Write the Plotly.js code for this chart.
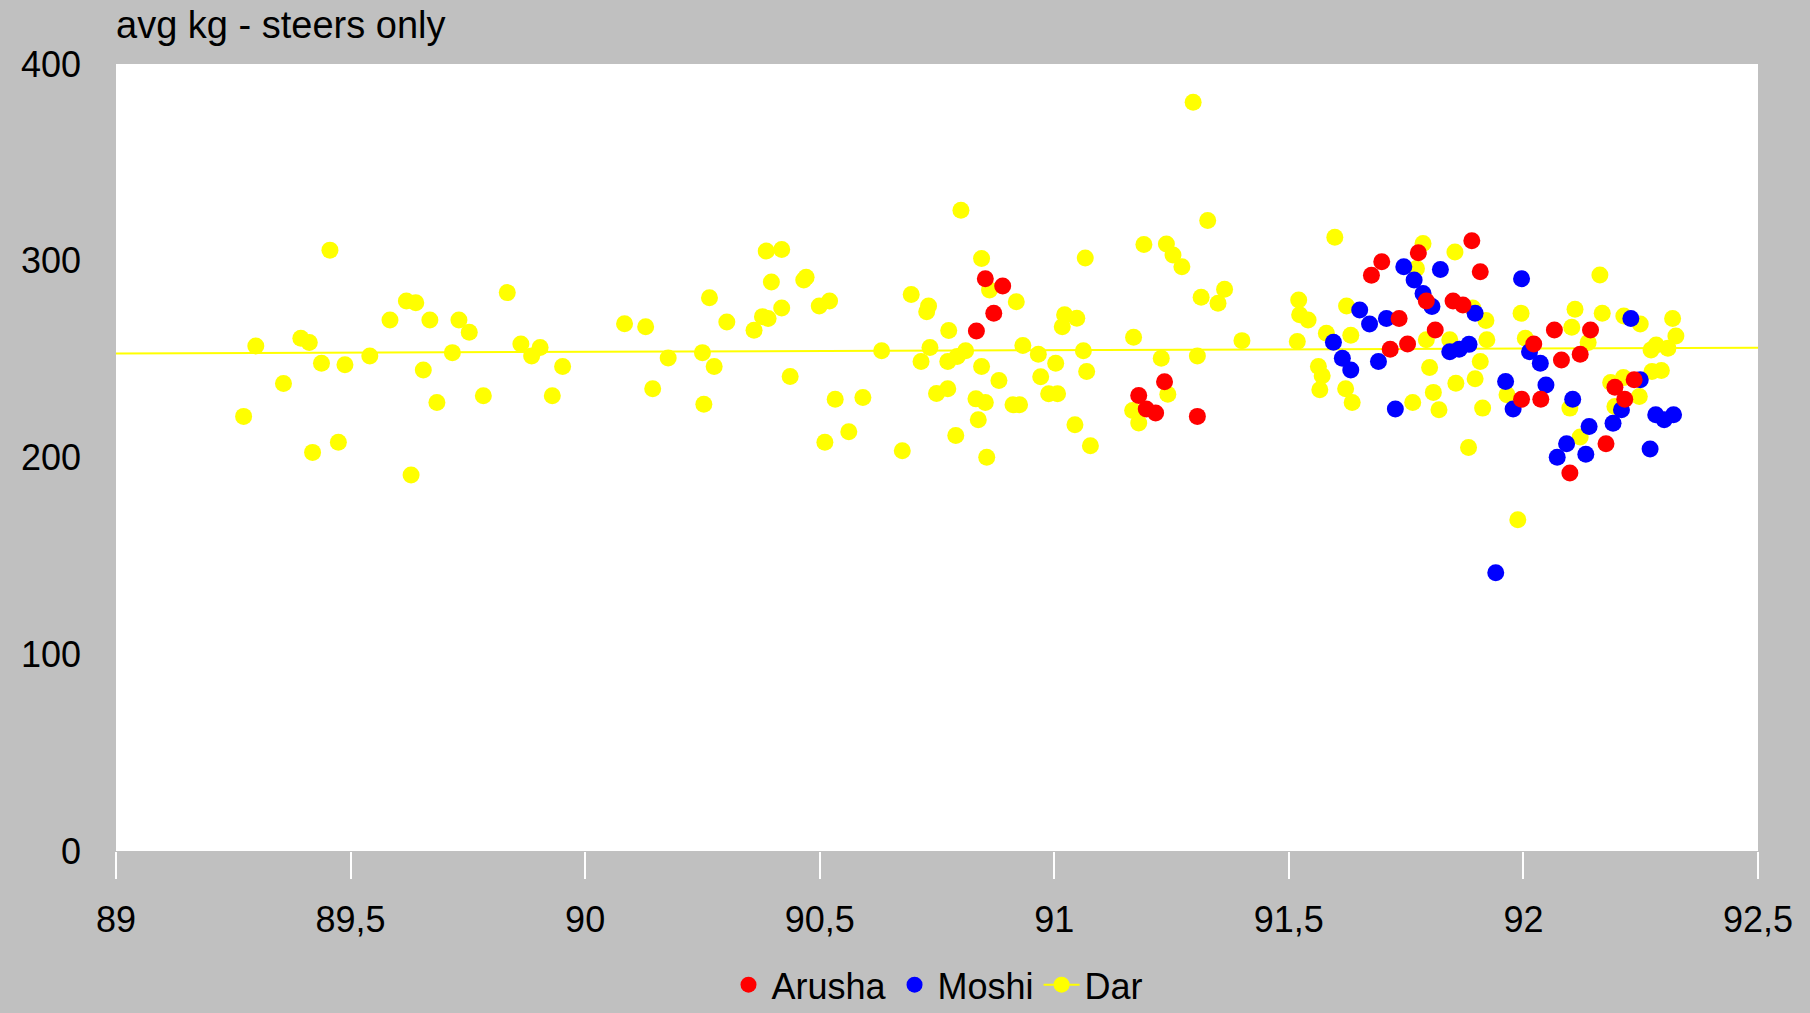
<!DOCTYPE html>
<html>
<head>
<meta charset="utf-8">
<script src="https://cdn.plot.ly/plotly-3.0.1.min.js"></script>
<style>
html,body{margin:0;padding:0;background:#C0C0C0;}
#chart{width:1810px;height:1013px;}
</style>
</head>
<body>
<div id="chart"></div>
<script>
// ---- data ----
const arushaX = [90.853,90.890,90.871,90.834,91.235,91.180,91.196,91.216,91.305,91.735,91.676,91.698,91.776,91.793,91.812,91.716,91.753,91.890,91.908,91.850,91.871,92.066,92.143,92.022,92.081,92.121,91.996,92.037,92.099,92.176,92.216,92.195,92.236];
const arushaY = [290.8,287.2,273.3,264.3,238.5,231.5,224.6,222.6,220.9,270.7,292.6,299.5,304.1,279.6,264.8,255.0,257.7,310.2,294.4,279.6,277.5,264.8,264.8,257.7,249.6,252.5,229.6,229.6,192.1,207.0,229.6,235.7,239.5];

const moshiX = [91.595,91.614,91.632,91.651,91.672,91.708,91.691,91.745,91.767,91.786,91.805,91.823,91.727,91.897,91.843,91.863,91.884,91.962,91.978,91.996,92.013,92.036,92.048,92.105,92.140,92.092,92.072,92.133,92.191,92.209,92.249,92.229,92.282,92.300,92.320,92.270,91.941];
const moshiY = [258.6,250.5,244.5,275.0,267.9,270.7,248.8,296.9,290.2,283.4,276.7,295.6,224.6,273.3,253.8,255.0,257.5,238.6,224.6,290.9,253.8,247.9,236.9,229.6,215.8,207.0,200.1,201.7,217.4,224.3,239.5,270.7,221.7,219.2,221.7,204.3,141.4];

const darX = [
89.456,89.834,89.619,89.639,89.584,89.669,89.731,89.753,89.298,89.394,89.412,89.438,89.488,89.541,89.717,89.863,89.904,89.886,89.655,89.357,89.783,89.684,89.272,89.474,89.419,89.629,
90.386,90.419,90.397,90.471,90.466,90.265,90.521,90.499,90.419,90.378,90.390,90.360,90.302,90.084,90.129,89.952,89.930,90.177,90.250,90.275,90.144,90.253,90.437,90.632,90.533,90.592,90.562,90.511,
90.801,90.845,91.066,91.191,91.239,91.253,91.272,91.327,90.862,90.695,90.732,90.728,90.919,90.775,91.022,91.048,91.017,91.169,90.735,90.716,90.773,90.793,90.811,90.933,90.966,91.003,91.062,91.228,91.305,90.845,91.069,90.882,90.971,90.749,90.773,90.833,90.853,90.912,90.926,90.988,91.007,90.838,90.790,91.044,91.077,90.676,90.856,91.242,91.167,91.180,91.363,91.349,91.313,91.296,
91.400,91.598,91.521,91.523,91.541,91.518,91.623,91.580,91.632,91.563,91.571,91.566,91.621,91.635,91.786,91.772,91.800,91.793,91.764,91.808,91.820,91.854,91.892,91.920,91.843,91.922,91.908,91.897,91.856,91.913,91.883,91.995,92.004,91.965,
92.163,92.110,92.168,92.103,92.138,92.099,92.121,92.195,92.186,92.213,92.247,92.274,92.294,92.272,92.283,92.308,92.325,92.318,92.214,92.249,91.988];
const darY = [
305.4,283.8,279.6,278.7,269.9,269.9,269.9,263.7,256.7,260.6,258.4,247.9,247.1,251.6,253.3,257.7,255.9,251.6,244.5,237.6,231.4,228.0,220.9,207.7,202.6,191.1,
304.9,305.7,289.2,291.6,290.2,281.2,279.6,277.0,276.0,271.6,270.6,264.7,268.9,268.0,266.4,246.2,231.4,250.6,253.3,246.2,234.9,227.1,241.2,254.2,229.6,230.5,213.1,207.7,
325.7,301.2,301.4,308.3,308.5,302.9,297.0,320.5,285.1,282.9,277.0,274.1,279.2,264.5,272.5,270.8,266.5,261.1,255.9,248.8,248.8,251.3,254.2,256.9,252.5,247.9,254.2,250.5,251.6,246.2,243.7,239.1,241.0,232.5,234.9,229.8,228.0,226.8,226.8,232.4,232.4,219.2,211.2,216.6,206.0,203.4,200.1,232.2,223.9,217.5,285.5,278.4,281.4,380.6,
259.4,311.9,280.1,272.5,269.9,258.9,277.0,263.1,262.1,246.2,241.5,234.4,234.9,228.0,308.8,296.1,245.7,259.8,228.0,233.1,224.3,304.5,276.0,269.6,259.8,259.8,248.8,240.0,237.7,225.1,205.1,273.3,260.6,231.9,
292.7,275.3,273.3,266.2,258.4,225.1,210.4,225.9,238.1,240.6,231.0,243.7,244.2,254.7,257.2,255.5,261.8,270.7,271.9,267.9,168.4];

// Dar linear trend line, end values
const trendX = [89, 92.5];
const trendY = [252.9, 255.8];

const xTickVals = [89, 89.5, 90, 90.5, 91, 91.5, 92, 92.5];
const xTickText = ["89", "89,5", "90", "90,5", "91", "91,5", "92", "92,5"];
const yTickVals = [0, 100, 200, 300, 400];
const yTickText = ["0", "100", "200", "300", "400"];

const FONT = '"Liberation Sans", Arial, Helvetica, sans-serif';

const traces = [
  {x: trendX, y: trendY, type: 'scatter', mode: 'lines', line: {color: '#FFFF00', width: 2}, showlegend: false, hoverinfo: 'skip'},
  {x: darX, y: darY, type: 'scatter', mode: 'markers', name: 'Dar', marker: {color: '#FFFF00', size: 17}, showlegend: false},
  {x: moshiX, y: moshiY, type: 'scatter', mode: 'markers', name: 'Moshi', marker: {color: '#0000FF', size: 17}, legendrank: 2},
  {x: arushaX, y: arushaY, type: 'scatter', mode: 'markers', name: 'Arusha', marker: {color: '#FF0000', size: 17}, legendrank: 1},
  {x: [null], y: [null], type: 'scatter', mode: 'lines+markers', name: 'Dar', line: {color: '#FFFF00', width: 2}, marker: {color: '#FFFF00', size: 16}, legendrank: 3}
];

const layout = {
  width: 1810,
  height: 1013,
  paper_bgcolor: '#C0C0C0',
  plot_bgcolor: '#FFFFFF',
  font: {family: FONT, color: '#000000', size: 36},
  margin: {l: 116, r: 52, t: 64, b: 162, pad: 0, autoexpand: false},
  title: {
    text: 'avg kg - steers only',
    font: {family: FONT, size: 38, color: '#000000'},
    xref: 'paper', x: 0, xanchor: 'left',
    yref: 'container', y: 1 - 25/1013, yanchor: 'middle'
  },
  xaxis: {
    range: [89, 92.5],
    tickmode: 'array', tickvals: xTickVals, ticktext: xTickText,
    ticks: 'outside', ticklen: 27, tickwidth: 2, tickcolor: '#FFFFFF',
    ticklabelstandoff: 10,
    showgrid: false, zeroline: false, showline: false,
    tickfont: {family: FONT, size: 36, color: '#000000'},
    fixedrange: true
  },
  yaxis: {
    range: [0, 400],
    tickmode: 'array', tickvals: yTickVals, ticktext: yTickText,
    ticks: '', showgrid: false, zeroline: false, showline: false,
    ticklabelstandoff: 34,
    tickfont: {family: FONT, size: 36, color: '#000000'},
    fixedrange: true
  },
  legend: {
    orientation: 'h',
    x: 0.5, xanchor: 'center',
    y: -0.17, yanchor: 'middle',
    bgcolor: 'rgba(0,0,0,0)',
    font: {family: FONT, size: 36, color: '#000000'},
    itemwidth: 36
  },
  showlegend: true
};

Plotly.newPlot('chart', traces, layout, {displayModeBar: false, staticPlot: true});
</script>
</body>
</html>
